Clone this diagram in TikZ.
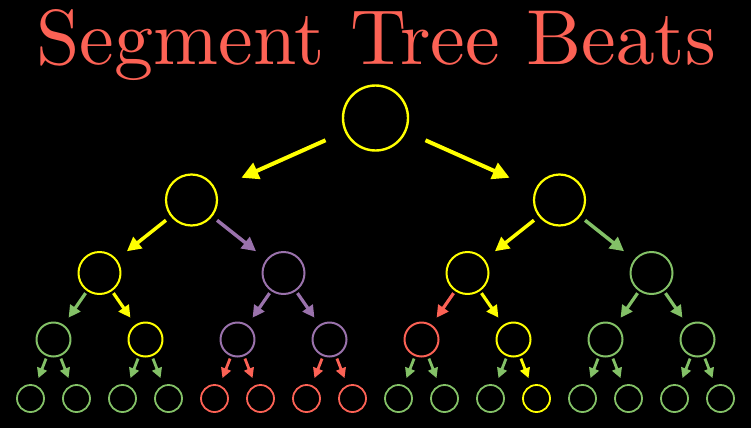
\documentclass[tikz,border=0pt]{standalone}
\usetikzlibrary{arrows.meta}
\definecolor{cY}{HTML}{FFFF00}
\definecolor{cG}{HTML}{83C167}
\definecolor{cP}{HTML}{9A72AC}
\definecolor{cR}{HTML}{FC6255}
\font\titlefont=cmr10 at 78pt
\begin{document}
\begin{tikzpicture}[x=1pt,y=-1pt,line join=round,
	vtx/.style={circle,inner sep=0pt,line width=2pt},
	arrA/.style={line width=4pt,-{Triangle[length=17pt,width=17pt]},shorten <=21pt,shorten >=28pt},
	arrB/.style={line width=3.5pt,-{Triangle[length=14pt,width=14pt]},shorten <=6pt,shorten >=13pt},
	arrC/.style={line width=3.2pt,-{Triangle[length=12pt,width=12pt]},shorten <=2.5pt,shorten >=8.5pt},
	arrD/.style={line width=2.8pt,-{Triangle[length=10pt,width=10pt]},shorten <=2.5pt,shorten >=7.5pt}]
		\fill[black] (0,0) rectangle (751,428) ;
		\node[anchor=base,text=cR,font=\titlefont] (title) at (376.5,64) {Segment Tree Beats} ;
		% the tree, numbered as a heap
		\node[vtx,draw=cY,minimum size=65pt,line width=2.4pt] (n1) at (375.5,118) {} ;
		\foreach \i/\X/\c in {2/191.5/cY,3/559.5/cY} \node[vtx,draw=\c,minimum size=51pt,line width=2.2pt] (n\i) at (\X,200) {} ;
		\foreach \i/\X/\c in {4/99.5/cY,5/283.5/cP,6/467.5/cY,7/651.5/cG} \node[vtx,draw=\c,minimum size=42pt] (n\i) at (\X,273) {} ;
		\foreach \i/\X/\c in {8/53.5/cG,9/145.5/cY,10/237.5/cP,11/329.5/cP,12/421.5/cR,13/513.5/cY,14/605.5/cG,15/697.5/cG}
			\node[vtx,draw=\c,minimum size=34pt] (n\i) at (\X,339.5) {} ;
		\foreach \i/\X/\c in {16/30.5/cG,17/76.5/cG,18/122.5/cG,19/168.5/cG,20/214.5/cR,21/260.5/cR,22/306.5/cR,23/352.5/cR,
			24/398.5/cG,25/444.5/cG,26/490.5/cG,27/536.5/cY,28/582.5/cG,29/628.5/cG,30/674.5/cG,31/720.5/cG}
			\node[vtx,draw=\c,minimum size=27pt,line width=1.8pt] (n\i) at (\X,398.5) {} ;
		% arrows take the colour of the child
		\foreach \p/\i/\c in {1/2/cY,1/3/cY} \draw[arrA,\c] (n\p) -- (n\i) ;
		\foreach \p/\i/\c in {2/4/cY,2/5/cP,3/6/cY,3/7/cG} \draw[arrB,\c] (n\p) -- (n\i) ;
		\foreach \p/\i/\c in {4/8/cG,4/9/cY,5/10/cP,5/11/cP,6/12/cR,6/13/cY,7/14/cG,7/15/cG} \draw[arrC,\c] (n\p) -- (n\i) ;
		\foreach \p/\i/\c in {8/16/cG,8/17/cG,9/18/cG,9/19/cG,10/20/cR,10/21/cR,11/22/cR,11/23/cR,
			12/24/cG,12/25/cG,13/26/cG,13/27/cY,14/28/cG,14/29/cG,15/30/cG,15/31/cG} \draw[arrD,\c] (n\p) -- (n\i) ;
\end{tikzpicture}
\end{document}
